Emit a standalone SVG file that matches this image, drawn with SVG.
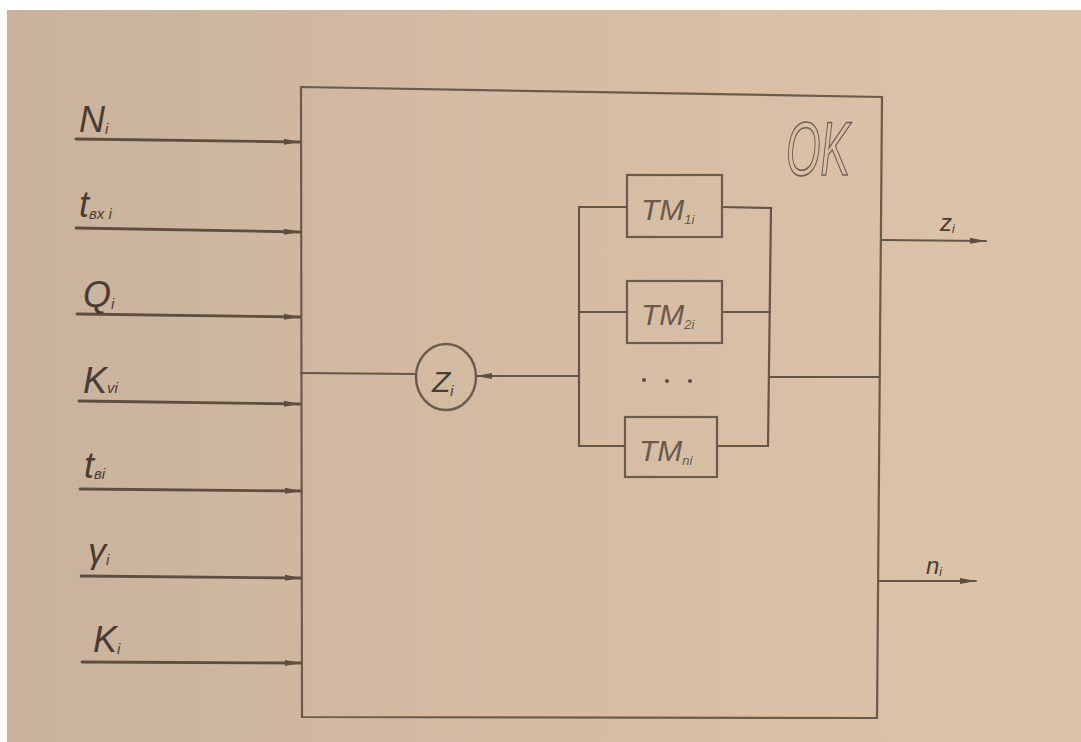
<svg xmlns="http://www.w3.org/2000/svg" width="1081" height="742" viewBox="0 0 1081 742">
<defs>
<linearGradient id="paper" x1="0" y1="0" x2="1" y2="0">
<stop offset="0" stop-color="#c9b29c"/>
<stop offset="0.45" stop-color="#d3bca2"/>
<stop offset="1" stop-color="#dcc4a9"/>
</linearGradient>
<marker id="arr" viewBox="0 0 16 8" refX="16" refY="4" markerWidth="16" markerHeight="8" markerUnits="userSpaceOnUse" orient="auto">
<path d="M0,1 L16,4 L0,7 Z" fill="#5e4e40"/>
</marker>
<marker id="arrs" viewBox="0 0 16 8" refX="0" refY="4" markerWidth="16" markerHeight="8" markerUnits="userSpaceOnUse" orient="auto">
<path d="M16,1 L0,4 L16,7 Z" fill="#5e4e40"/>
</marker>
</defs>
<style>
.ln{fill:none;stroke:#66564a;stroke-width:2.2;stroke-linecap:round}
.in{fill:none;stroke:#5e4e40;stroke-width:2.8;stroke-linecap:round}
.box{fill:none;stroke:#6b5b4e;stroke-width:2.2}
.lbl{font-family:"Liberation Sans",Arial,sans-serif;font-style:italic;fill:#4a3c30}
.big{font-size:36px}
.sub{font-size:15px}
.tm{font-family:"Liberation Sans",Arial,sans-serif;font-style:italic;fill:#6a5a4c;font-size:30px}
.tms{font-size:13px}
</style>
<rect x="0" y="0" width="1081" height="742" fill="url(#paper)"/>
<rect x="0" y="0" width="1081" height="10" fill="#ffffff"/>
<rect x="0" y="0" width="7" height="742" fill="#ffffff"/>

<g id="OK">
<path class="box" d="M301,87 L882,97 L877,718 L302,717 Z"/>
<text x="786" y="175" font-family="'Liberation Sans',Arial,sans-serif" font-style="italic" font-size="76" fill="none" stroke="#6e5e50" stroke-width="1.6" textLength="64" lengthAdjust="spacingAndGlyphs">OK</text>
</g>

<g id="connectors">
<line class="in" x1="76" y1="139" x2="300" y2="142" marker-end="url(#arr)"/>
<line class="in" x1="76" y1="228" x2="300" y2="232" marker-end="url(#arr)"/>
<line class="in" x1="77" y1="314" x2="300" y2="317" marker-end="url(#arr)"/>
<line class="in" x1="79" y1="401" x2="300" y2="404" marker-end="url(#arr)"/>
<line class="in" x1="80" y1="489" x2="301" y2="491" marker-end="url(#arr)"/>
<line class="in" x1="81" y1="576" x2="301" y2="578" marker-end="url(#arr)"/>
<line class="in" x1="82" y1="662" x2="301" y2="663" marker-end="url(#arr)"/>
<line class="ln" x1="301" y1="373" x2="416" y2="374"/>
<line class="ln" x1="476" y1="376" x2="579" y2="376" marker-start="url(#arrs)"/>
<path class="ln" d="M627,207 L579,207 L579,446 L625,446"/>
<line class="ln" x1="579" y1="312" x2="627" y2="312"/>
<path class="ln" d="M722,207 L771,208 L768,446 L717,446"/>
<line class="ln" x1="722" y1="312" x2="770" y2="312"/>
<line class="ln" x1="769" y1="377" x2="879" y2="377"/>
<line class="ln" x1="882" y1="240" x2="986" y2="241" marker-end="url(#arr)"/>
<line class="ln" x1="878" y1="581" x2="976" y2="581" marker-end="url(#arr)"/>
</g>

<g id="inputs">
<text class="lbl big" x="79" y="132">N<tspan class="sub" dy="2">i</tspan></text>
<text class="lbl big" x="79" y="217" font-size="30">t<tspan class="sub" dy="2">вх i</tspan></text>
<text class="lbl big" x="83" y="307">Q<tspan class="sub" dy="2">i</tspan></text>
<text class="lbl big" x="83" y="393">K<tspan class="sub" dy="0">vi</tspan></text>
<text class="lbl big" x="84" y="478">t<tspan class="sub" dy="1">вi</tspan></text>
<text class="lbl big" x="88" y="563">γ<tspan class="sub" dy="2">i</tspan></text>
<text class="lbl big" x="93" y="652">K<tspan class="sub" dy="2">i</tspan></text>
</g>

<g id="Zcircle">
<ellipse cx="446" cy="377" rx="30" ry="33" fill="none" stroke="#6b5b4e" stroke-width="2.4"/>
<text class="lbl" x="432" y="392" font-size="30" fill="#5a4a3d">Z<tspan font-size="14" dy="4">i</tspan></text>
</g>

<g id="TM1">
<rect class="box" x="627" y="175" width="95" height="62"/>
<text class="tm" x="641" y="220">TM<tspan class="tms" dy="4">1i</tspan></text>
</g>
<g id="TM2">
<rect class="box" x="627" y="281" width="95" height="62"/>
<text class="tm" x="641" y="325">TM<tspan class="tms" dy="4">2i</tspan></text>
</g>
<g id="dots" fill="#5e4e40">
<circle cx="644" cy="380" r="2"/>
<circle cx="667" cy="381" r="2"/>
<circle cx="690" cy="381" r="2"/>
</g>
<g id="TMn">
<rect class="box" x="625" y="417" width="92" height="60"/>
<text class="tm" x="639" y="461">TM<tspan class="tms" dy="4">ni</tspan></text>
</g>

<g id="outputs">
<text class="lbl" x="940" y="231" font-size="24" fill="#6a5a4c">z<tspan font-size="12" dy="2">i</tspan></text>
<text class="lbl" x="926" y="574" font-size="24" fill="#4a3c30">n<tspan font-size="12" dy="2">i</tspan></text>
</g>
</svg>
